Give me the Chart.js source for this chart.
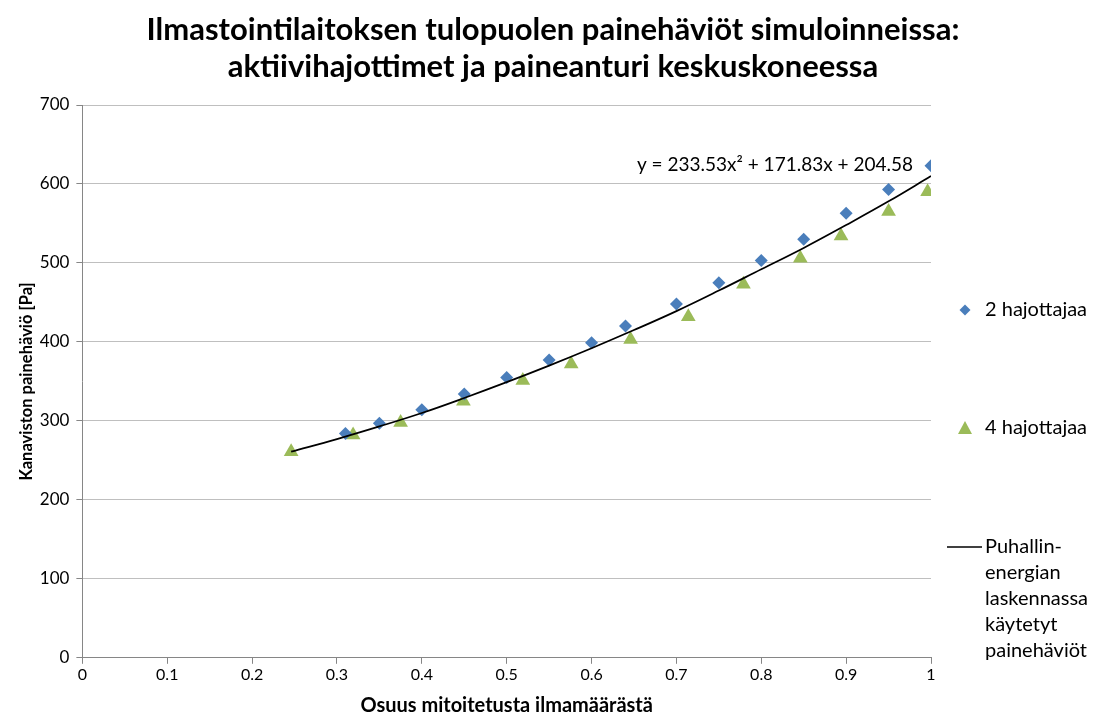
<!DOCTYPE html>
<html>
<head>
<meta charset="utf-8">
<script src="https://cdn.jsdelivr.net/npm/chart.js@4"></script>
<style>
  html, body { margin: 0; padding: 0; background: #fff; }
  #wrap { width: 1093px; height: 719px; }
</style>
</head>
<body>
<div id="wrap"><canvas id="chart" width="1093" height="719"></canvas></div>
<script>
// values
const blueX = [0.31, 0.35, 0.40, 0.45, 0.50, 0.55, 0.60, 0.64, 0.70, 0.75, 0.80, 0.85, 0.90, 0.95, 1.00];
const blueY = [284, 297, 314, 334, 355, 377, 399, 420, 448, 475, 503, 530, 563, 593, 623];

const greenX = [0.246, 0.319, 0.375, 0.449, 0.519, 0.576, 0.646, 0.714, 0.779, 0.846, 0.894, 0.95, 0.996];
const greenY = [261, 282, 298, 325, 351, 372, 403, 432, 473, 506, 534, 565, 590];

const curveX = [0.246, 0.30, 0.35, 0.40, 0.45, 0.50, 0.55, 0.60, 0.65, 0.70, 0.75, 0.80, 0.85, 0.90, 0.95, 1.00];
const curveY = [261, 277, 293, 310, 329, 349, 370, 392, 415, 439, 465, 492, 519, 548, 578, 610];

const seriesNames = ['2 hajottajaa', '4 hajottajaa', 'Puhallin-energian laskennassa käytetyt painehäviöt'];
const lineLegendLines = ['Puhallin-', 'energian', 'laskennassa', 'käytetyt', 'painehäviöt'];
const titleLines = ['Ilmastointilaitoksen tulopuolen painehäviöt simuloinneissa:', 'aktiivihajottimet ja paineanturi keskuskoneessa'];
const equationText = 'y = 233.53x² + 171.83x + 204.58';

const blueColor = '#4a7ebb';
const greenColor = '#9bbb59';

function pairs(xs, ys) {
    return xs.map((x, i) => ({ x: x, y: ys[i] }));
}

const extraText = {
    id: 'extraText',
    afterDraw(chart) {
        const ctx = chart.ctx;
        const area = chart.chartArea;
        ctx.save();

        // title, centred on the whole picture
        ctx.fillStyle = '#000';
        ctx.textAlign = 'center';
        ctx.textBaseline = 'middle';
        ctx.font = 'bold 31px Lato';
        ctx.fillText(titleLines[0], 553, 30);
        ctx.fillText(titleLines[1], 553, 67);

        // trendline equation
        ctx.font = '19px Lato';
        ctx.textAlign = 'right';
        ctx.fillText(equationText, area.right - 18, chart.scales.y.getPixelForValue(624));

        // legend
        const lx = area.right + 34;
        const tx = area.right + 54;
        ctx.textAlign = 'left';
        ctx.font = '20px Lato';

        let y = 310;
        ctx.fillStyle = blueColor;
        ctx.beginPath();
        ctx.moveTo(lx - 5.5, y);
        ctx.lineTo(lx, y - 5.5);
        ctx.lineTo(lx + 5.5, y);
        ctx.lineTo(lx, y + 5.5);
        ctx.closePath();
        ctx.fill();
        ctx.fillStyle = '#000';
        ctx.fillText(seriesNames[0], tx, y);

        y = 428;
        ctx.fillStyle = greenColor;
        ctx.beginPath();
        ctx.moveTo(lx - 7, y + 6);
        ctx.lineTo(lx, y - 7);
        ctx.lineTo(lx + 7, y + 6);
        ctx.closePath();
        ctx.fill();
        ctx.fillStyle = '#000';
        ctx.fillText(seriesNames[1], tx, y);

        y = 547;
        ctx.strokeStyle = '#000';
        ctx.lineWidth = 1.5;
        ctx.beginPath();
        ctx.moveTo(lx - 18, y);
        ctx.lineTo(tx - 3, y);
        ctx.stroke();
        lineLegendLines.forEach((t, i) => {
            ctx.fillText(t, tx, y + i * 25.8);
        });

        ctx.restore();
    }
};

const ctx = document.getElementById('chart').getContext('2d');

new Chart(ctx, {
    type: 'scatter',
    data: {
        datasets: [
            {
                label: seriesNames[0],
                data: pairs(blueX, blueY),
                pointStyle: 'rectRot',
                pointRadius: 6.5,
                pointHoverRadius: 6.5,
                backgroundColor: blueColor,
                borderColor: blueColor,
                borderWidth: 0,
                order: 1,
            },
            {
                label: seriesNames[1],
                data: pairs(greenX, greenY),
                pointStyle: 'triangle',
                pointRadius: 8.5,
                pointHoverRadius: 8.5,
                backgroundColor: greenColor,
                borderColor: greenColor,
                borderWidth: 0,
                order: 2,
            },
            {
                type: 'line',
                label: seriesNames[2],
                data: pairs(curveX, curveY),
                borderColor: '#000',
                borderWidth: 1.75,
                pointRadius: 0,
                tension: 0.4,
                fill: false,
                order: 0,
            },
        ],
    },
    options: {
        responsive: false,
        animation: false,
        layout: {
            padding: { left: 17, right: 162, top: 105, bottom: 1 },
        },
        plugins: {
            legend: { display: false },
            tooltip: { enabled: false },
            title: { display: false },
        },
        scales: {
            x: {
                type: 'linear',
                min: 0,
                max: 1,
                ticks: {
                    stepSize: 0.1,
                    color: '#000',
                    font: { family: 'Lato', size: 16 },
                    padding: 1,
                    callback: (v) => Math.round(v * 10) / 10,
                },
                grid: {
                    drawOnChartArea: false,
                    drawTicks: true,
                    tickLength: 6,
                    color: '#868686',
                },
                border: { color: '#868686', width: 1 },
                title: {
                    display: true,
                    text: 'Osuus mitoitetusta ilmamäärästä',
                    color: '#000',
                    font: { family: 'Lato', size: 20, weight: 'bold' },
                    padding: { top: 9, bottom: 0 },
                },
            },
            y: {
                min: 0,
                max: 700,
                ticks: {
                    stepSize: 100,
                    color: '#000',
                    font: { family: 'Lato', size: 17 },
                    padding: 7,
                },
                grid: {
                    color: '#bfbfbf',
                    tickLength: 6,
                    tickColor: '#868686',
                },
                border: { color: '#868686', width: 1 },
                title: {
                    display: true,
                    text: 'Kanaviston painehäviö [Pa]',
                    color: '#000',
                    font: { family: 'Lato', size: 16.5, weight: 'bold' },
                    padding: { top: 0, bottom: -4 },
                },
            },
        },
    },
    plugins: [extraText],
});
</script>
</body>
</html>
